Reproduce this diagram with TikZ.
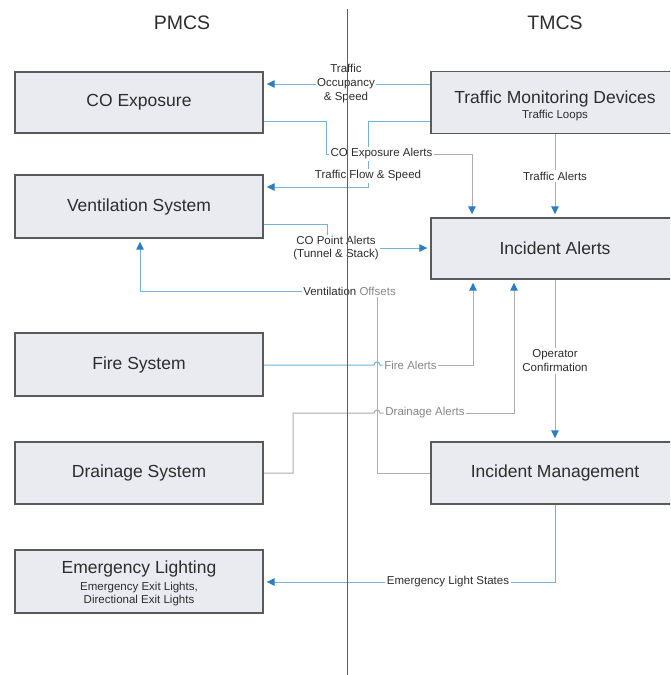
\documentclass[tikz,border=0pt]{standalone}
\usepackage{fontspec}
\setmainfont{Liberation Sans}
\usetikzlibrary{arrows.meta}
\definecolor{boxfill}{RGB}{234,234,241}
\definecolor{boxline}{RGB}{90,90,90}
\definecolor{linkblue}{RGB}{115,178,218}
\definecolor{linkgray}{RGB}{168,172,180}
\definecolor{tipblue}{RGB}{45,125,192}
\definecolor{txt}{RGB}{45,45,45}
\definecolor{lighttxt}{RGB}{135,135,135}
\definecolor{divider}{RGB}{95,95,95}
\pgfdeclarelayer{bg}
\pgfsetlayers{bg,main}
\begin{document}
\begin{tikzpicture}[x=1pt,y=-1pt,
  sysbox/.style={draw=boxline, line width=1.4pt, fill=boxfill, minimum width=248pt,
    minimum height=62pt, inner sep=0pt, align=center, text=txt,
    font=\fontsize{17.5}{20}\selectfont},
  subbox/.style={sysbox, font=\fontsize{11.5}{13}\selectfont},
  lbl/.style={fill=white, inner sep=1.5pt, align=center, text=txt,
    font=\fontsize{11.5}{14}\selectfont},
  hdr/.style={text=txt, font=\fontsize{19.5}{22}\selectfont},
  bl/.style={draw=linkblue, line width=1pt},
  gl/.style={draw=linkgray, line width=1pt},
  tip/.style={-{Triangle[length=8pt,width=7.5pt,color=tipblue]}, shorten >=3pt},
]
\useasboundingbox (0,0) rectangle (670,675);
\clip (0,0) rectangle (670,675);
\begin{pgfonlayer}{bg}
  \fill[white] (0,0) rectangle (670,675);
\end{pgfonlayer}

% headers
\node[hdr] (pmcs) at (182,23) {PMCS};
\node[hdr] (tmcs) at (555,23) {TMCS};

% PMCS boxes
\node[sysbox, minimum height=61pt] (co) at (139,102.5) {CO Exposure};
\node[sysbox, minimum height=63pt] (vent) at (139,206.5) {Ventilation System};
\node[sysbox, minimum height=63pt] (fire) at (139,364.5) {Fire System};
\node[sysbox] (drain) at (139,473) {Drainage System};
\node[subbox, minimum height=63pt] (emerg) at (139,581.5)
  {\mbox{}\\[3.6pt]
   {\fontsize{17.5}{20}\selectfont Emergency Lighting}\\[4pt]
   Emergency Exit Lights,\\
   Directional Exit Lights};

% TMCS boxes
\node[subbox] (tmd) at (555,102.5)
  {\mbox{}\\[5.6pt]
   {\fontsize{17.5}{20}\selectfont Traffic Monitoring Devices}\\[2pt]
   Traffic Loops};
\node[sysbox, minimum height=61pt] (ia) at (555,248.5) {Incident Alerts};
\node[sysbox] (im) at (555,473) {Incident Management};

% connector labels
\node[lbl] (l1) at (346,84) {Traffic\\Occupancy\\\& Speed};
\node[lbl] (l2) at (381.5,154) {CO Exposure Alerts};
\node[lbl] (l3) at (368,176) {Traffic Flow \& Speed};
\node[lbl] (l4) at (555,176) {Traffic Alerts};
\node[lbl, font=\fontsize{11.5}{12.5}\selectfont] (l5) at (336,248) {CO Point Alerts\\(Tunnel \& Stack)};
\node[lbl] (l6) at (349.5,291) {Ventilation \textcolor{lighttxt}{Offsets}};
\node[lbl, text=lighttxt] (l7) at (410.5,365) {Fire Alerts};
\node[lbl, text=lighttxt] (l8) at (425,413) {Drainage Alerts};
\node[lbl] (l9) at (555,361) {Operator\\Confirmation};
\node[lbl] (l10) at (448,582) {Emergency Light States};

% connectors (behind the labels)
\begin{pgfonlayer}{bg}
  % Traffic Occupancy & Speed
  \draw[bl,tip] (tmd.west |- l1) -- (co.east |- l1);
  % CO Exposure Alerts
  \draw[bl] (co.east |- 0,121) -- (326,121) -- (326,154) -- (l2.west);
  \draw[gl,tip] (l2.east) -| (ia.north -| 472,0);
  % Traffic Flow & Speed
  \draw[bl,tip] (tmd.west |- 0,121) -- (368,121) -- (368,187) -- (vent.east |- 0,187);
  % Traffic Alerts
  \draw[gl,tip] (tmd.south) -- (ia.north);
  % CO Point Alerts
  \draw[bl,tip] (vent.east |- 0,224) -- (327,224) -- (327,248) -- (ia.west |- 0,248);
  % Ventilation Offsets
  \draw[gl] (im.west) -- (377,473) -- (377,291) -- (l6);
  \draw[bl,tip] (l6.west) -- (140,291) -- (vent.south -| 140,0);
  % Fire Alerts
  \draw[bl] (fire.east |- 0,365) -- (374,365)
     arc[start angle=180, end angle=360, radius=3] -- (l7.west);
  \draw[gl,tip] (l7.east) -| (ia.south -| 473,0);
  % Drainage Alerts
  \draw[gl] (drain.east |- 0,473) -- (293,473) -- (293,413) -- (374,413)
     arc[start angle=180, end angle=360, radius=3] -- (l8.west);
  \draw[gl,tip] (l8.east) -| (ia.south -| 514,0);
  % Operator Confirmation
  \draw[gl,tip] (ia.south) -- (im.north);
  % Emergency Light States
  \draw[bl,tip] (im.south) |- (emerg.east |- 0,582);
\end{pgfonlayer}

% divider between PMCS and TMCS
\coordinate (dtop) at (347.5,9);
\coordinate (dbot) at (347.5,676);
\draw[divider, line width=1.2pt] (dtop) -- (dbot);
\end{tikzpicture}
\end{document}
